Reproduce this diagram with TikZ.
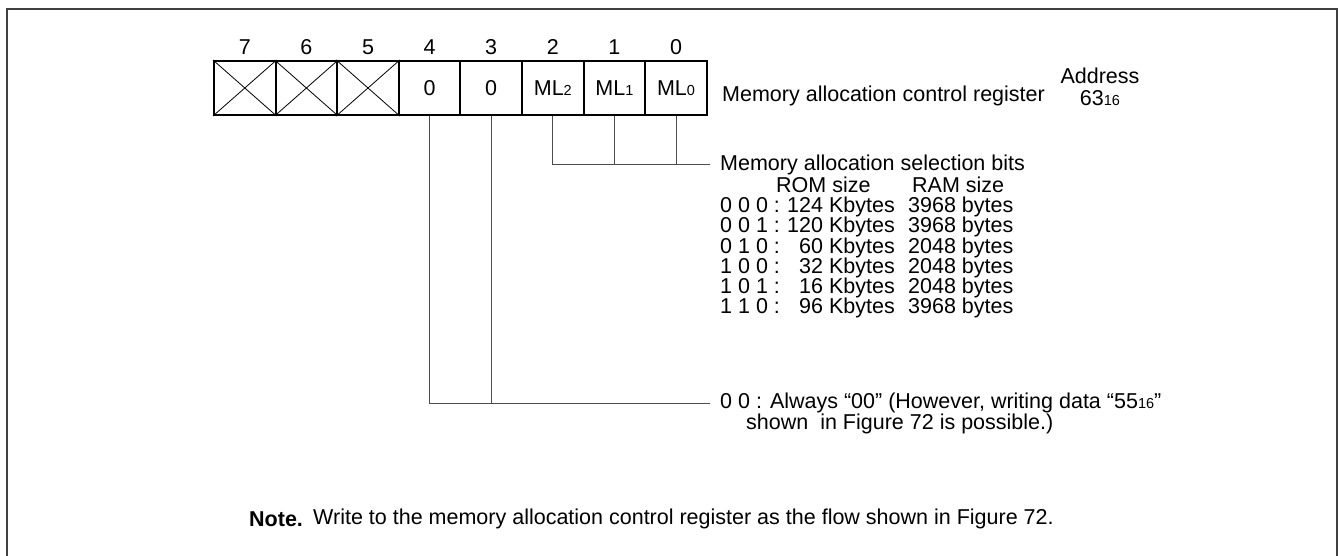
\documentclass[tikz,border=0pt]{standalone}
\usepackage{fontspec}
\setmainfont{Liberation Sans}
\newcommand\subs[1]{{\fontsize{14.5}{14.5}\selectfont #1}}
\tikzset{
  cell/.style={draw=black, line width=2pt, minimum width=61.6pt, minimum height=54pt, inner sep=0pt, anchor=center},
  bitnum/.style={inner sep=0pt, anchor=center},
  lbl/.style={inner sep=0pt, anchor=west},
  basel/.style={inner sep=0pt, anchor=base west},
  basee/.style={inner sep=0pt, anchor=base east},
  conn/.style={draw=black!70, line width=1pt},
  xline/.style={draw=black, line width=0.8pt},
  frame/.style={draw=black!75, line width=2.8pt}
}
\begin{document}
\begin{tikzpicture}[x=1pt,y=-1pt,font=\fontsize{21.5}{25}\selectfont]
\useasboundingbox (0,0) rectangle (1338,556);
\draw[frame] (7,600) -- (7,9) -- (1337,9) -- (1337,600);
% cells
\foreach \i/\lab in {7/,6/,5/,4/0,3/0} {
  \node[cell] (c\i) at ({214+61.6*(7-\i)+30.8},88) {\lab};
  \node[bitnum] (b\i) at ({214+61.6*(7-\i)+30.8},47) {\i};
}
\node[cell] (c2) at ({214+61.6*5+30.8},88) {ML\subs{2}};
\node[cell] (c1) at ({214+61.6*6+30.8},88) {ML\subs{1}};
\node[cell] (c0) at ({214+61.6*7+30.8},88) {ML\subs{0}};
\foreach \i in {2,1,0} {
  \node[bitnum] (b\i) at ({214+61.6*(7-\i)+30.8},47) {\i};
}
\foreach \i in {7,6,5} {
  \draw[xline] (c\i.north west) -- (c\i.south east);
  \draw[xline] (c\i.south west) -- (c\i.north east);
}
% labels
\node[lbl] (reg) at (722,96) {Memory allocation control register};
\node[bitnum] (addr) at (1100,76) {Address};
\node[bitnum] (addrv) at (1100,98) {63\subs{16}};
% selection bits
\coordinate (mlend) at (710,165);
\node[lbl] (sel) at (720,165) {Memory allocation selection bits};
\draw[conn] (c2.south) |- (mlend);
\draw[conn] (c1.south) -- (c1.south |- mlend);
\draw[conn] (c0.south) -- (c0.south |- mlend);
\node[basel] (romh) at (776,193) {ROM size};
\node[basel] (ramh) at (912,193) {RAM size};
\foreach \k/\code/\rom/\ram in {0/0 0 0/124/3968,1/0 0 1/120/3968,2/0 1 0/60/2048,3/1 0 0/32/2048,4/1 0 1/16/2048,5/1 1 0/96/3968} {
  \node[basel] (code\k) at (720,{213+20*\k}) {\code\ :};
  \node[basee] (rom\k) at (895,{213+20*\k}) {\rom\ Kbytes};
  \node[basel] (ram\k) at (908,{213+20*\k}) {\ram\ bytes};
}
% always 00
\coordinate (allw) at (710,403);
\draw[conn] (c4.south) |- (allw);
\draw[conn] (c3.south) -- (c3.south |- allw);
\node[lbl] (alw) at (720,403) {0 0 : Always “00” (However, writing data “55\subs{16}”};
\node[lbl] (alw2) at (746,424) {shown\ \ in Figure 72 is possible.)};
% note
\node[lbl] (note) at (249,519) {\textbf{Note.}};
\node[lbl] (notet) at (313,519) {Write to the memory allocation control register as the flow shown in Figure 72.};
\end{tikzpicture}
\end{document}
